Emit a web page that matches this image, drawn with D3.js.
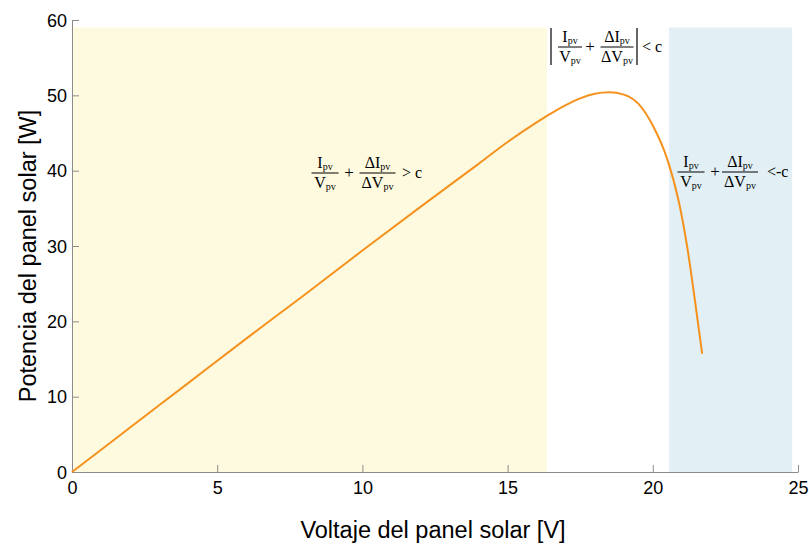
<!DOCTYPE html>
<html>
<head>
<meta charset="utf-8">
<script src="https://cdn.jsdelivr.net/npm/d3@7"></script>
<style>
  body { margin: 0; background: #fff; }
  .axis path, .axis line { stroke: #8c8c8c; }
  .axis text { font-family: "Liberation Sans", Arial, sans-serif; font-size: 18px; fill: #000; }
  .formula text { font-family: "Liberation Serif", "Times New Roman", serif; fill: #000; }
</style>
</head>
<body>
<script>

// Curva P-V del panel
var voltaje  = [0, 2, 4, 6, 8, 10, 12, 14, 15, 16, 16.5, 17, 17.5, 18, 18.5, 19, 19.5, 20, 20.5, 20.9, 21.2, 21.45, 21.7];
var potencia = [0, 5.9, 11.8, 17.7, 23.5, 29.4, 35.2, 40.9, 43.8, 46.4, 47.6, 48.7, 49.6, 50.2, 50.4, 50.1, 48.9, 46.0, 41.5, 35.8, 29.5, 22.8, 15.7];

// Zonas sombreadas [desde, hasta] en V y altura en W
var zonaIzq = [0, 16.36];
var zonaDer = [20.56, 24.8];
var alturaZona = 59;

var xTicks = [0, 5, 10, 15, 20, 25];
var yTicks = [0, 10, 20, 30, 40, 50, 60];

var margin = {top: 20, right: 11, bottom: 72, left: 72},
    width = 809 - margin.left - margin.right,
    height = 544 - margin.top - margin.bottom;

var x = d3.scaleLinear().domain([0, 25]).range([0, width]);
var y = d3.scaleLinear().domain([0, 60]).range([height, 0]);

var svg = d3.select("body").append("svg")
    .attr("width", 809)
    .attr("height", 544)
  .append("g")
    .attr("transform", "translate(" + margin.left + "," + margin.top + ")");

// zonas
svg.append("rect")
    .attr("x", x(zonaIzq[0]))
    .attr("y", y(alturaZona))
    .attr("width", x(zonaIzq[1]) - x(zonaIzq[0]))
    .attr("height", y(0) - y(alturaZona))
    .attr("fill", "#fefadf");

svg.append("rect")
    .attr("x", x(zonaDer[0]))
    .attr("y", y(alturaZona))
    .attr("width", x(zonaDer[1]) - x(zonaDer[0]))
    .attr("height", y(0) - y(alturaZona))
    .attr("fill", "#e2f0f6");

// ejes
svg.append("g")
    .attr("class", "x axis")
    .attr("transform", "translate(0," + height + ")")
    .call(d3.axisBottom(x).tickValues(xTicks).tickSize(-7).tickPadding(9).tickSizeOuter(0));

svg.append("g")
    .attr("class", "y axis")
    .call(d3.axisLeft(y).tickValues(yTicks).tickSize(-7).tickPadding(5).tickSizeOuter(0));

svg.selectAll(".y.axis .tick text").attr("dy", "0.35em");

// curva
var puntos = voltaje.map(function(v, i) { return [v, potencia[i]]; });

svg.append("path")
    .datum(puntos)
    .attr("fill", "none")
    .attr("stroke", "#f5921e")
    .attr("stroke-width", 2)
    .attr("d", d3.line()
        .x(function(d) { return x(d[0]); })
        .y(function(d) { return y(d[1]); })
        .curve(d3.curveMonotoneX));

// titulos de ejes
svg.append("text")
    .attr("x", width / 2 - 2)
    .attr("y", height + 66)
    .style("text-anchor", "middle")
    .style("font-family", "Liberation Sans, Arial, sans-serif")
    .style("font-size", "23.5px")
    .text("Voltaje del panel solar [V]");

svg.append("text")
    .attr("transform", "rotate(-90)")
    .attr("x", -236)
    .attr("y", -36)
    .style("text-anchor", "middle")
    .style("font-family", "Liberation Sans, Arial, sans-serif")
    .style("font-size", "23.5px")
    .text("Potencia del panel solar [W]");

// formulas (coordenadas de pagina)
var fg = d3.select("svg").append("g").attr("class", "formula");

function simbolo(g, xx, yy, main, sub) {
  var t = g.append("text").attr("x", xx).attr("y", yy).style("font-size", "16px");
  t.append("tspan").text(main);
  t.append("tspan").attr("dy", 2).style("font-size", "10px").text(sub);
  return t;
}

function fraccion(g, cx, ly, w, num, den) {
  simbolo(g, cx, ly - 5, num[0], num[1]).attr("text-anchor", "middle");
  simbolo(g, cx, ly + 15, den[0], den[1]).attr("text-anchor", "middle");
  g.append("line")
      .attr("x1", cx - w / 2).attr("x2", cx + w / 2)
      .attr("y1", ly).attr("y2", ly)
      .attr("stroke", "#000").attr("stroke-width", 1);
}

function formula(cx1, cx2, ly, w1, w2, xPlus) {
  fraccion(fg, cx1, ly, w1, ["I", "pv"], ["V", "pv"]);
  fg.append("text").attr("x", xPlus).attr("y", ly + 5).attr("text-anchor", "middle")
      .style("font-size", "17px").text("+");
  fraccion(fg, cx2, ly, w2, ["\u0394I", "pv"], ["\u0394V", "pv"]);
}

// zona izquierda
formula(325, 377.5, 173, 27, 36, 349);
fg.append("text").attr("x", 402).attr("y", 178).style("font-size", "16px").text("> c");

// zona central
formula(570, 617, 47, 24, 33, 590);
[551, 637].forEach(function(bx) {
  fg.append("line").attr("x1", bx).attr("x2", bx).attr("y1", 28).attr("y2", 65)
      .attr("stroke", "#000").attr("stroke-width", 1.2);
});
fg.append("text").attr("x", 642).attr("y", 52).style("font-size", "16px").text("< c");

// zona derecha
formula(691, 740, 172, 27, 36, 715);
fg.append("text").attr("x", 767).attr("y", 177).style("font-size", "16px").text("<-c");

</script>
</body>
</html>
